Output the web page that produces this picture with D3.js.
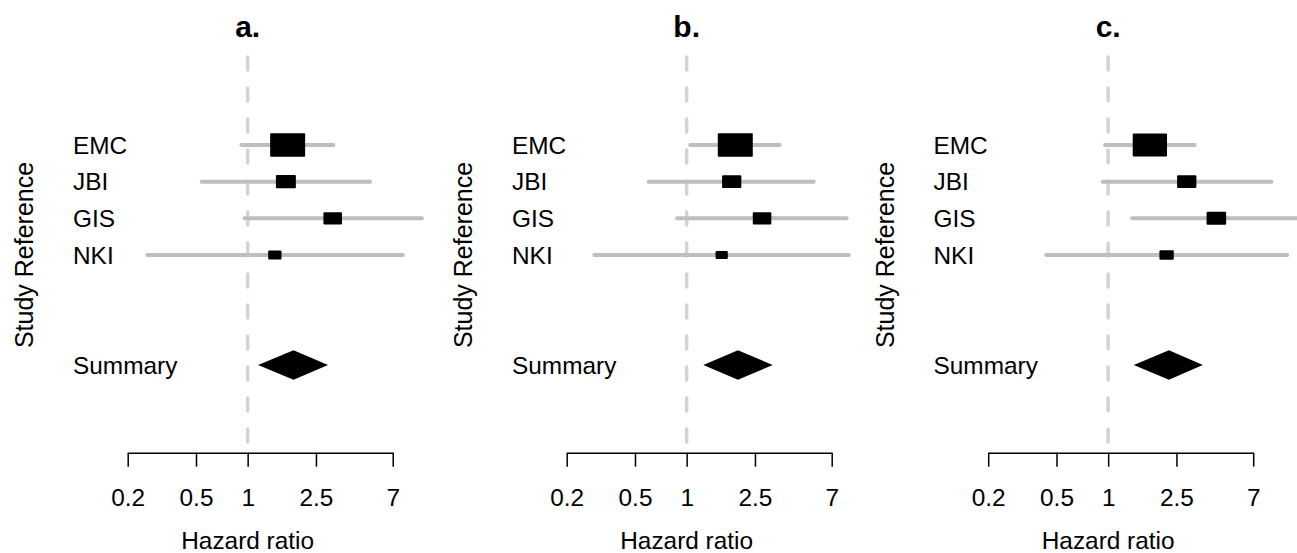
<!DOCTYPE html>
<html>
<head>
<meta charset="utf-8">
<script src="https://cdn.jsdelivr.net/npm/d3@7"></script>
<style>
  body { margin: 0; background: #fff; }
  svg { display: block; font-family: "Liberation Sans", Arial, sans-serif; }
</style>
</head>
<body>
<div id="chart"></div>
<script>
// Data (hazard ratios, log scale)
const panels = ['a.', 'b.', 'c.'];
const studies = ['EMC', 'JBI', 'GIS', 'NKI'];
const tickValues = [0.2, 0.5, 1, 2.5, 7];

// point estimate, lower CI, upper CI, relative weight (box size)
const hrA = [1.71, 1.67, 3.13, 1.44];
const loA = [0.92, 0.54, 0.96, 0.26];
const hiA = [3.16, 5.17, 10.35, 8.02];
const wtA = [1.00, 0.57, 0.53, 0.38];

const hrB = [1.92, 1.83, 2.75, 1.60];
const loB = [1.05, 0.60, 0.88, 0.29];
const hiB = [3.48, 5.50, 8.55, 8.80];
const wtB = [1.00, 0.55, 0.53, 0.35];

const hrC = [1.75, 2.87, 4.27, 2.19];
const loC = [0.96, 0.93, 1.38, 0.435];
const hiC = [3.19, 8.95, 13.0, 11.05];
const wtC = [0.98, 0.55, 0.56, 0.41];

// summary: estimate, lower, upper
const summaryA = [1.85, 1.15, 2.94];
const summaryB = [1.99, 1.25, 3.17];
const summaryC = [2.26, 1.41, 3.56];

const panelData = [
    { hr: hrA, lo: loA, hi: hiA, wt: wtA, summary: summaryA },
    { hr: hrB, lo: loB, hi: hiB, wt: wtB, summary: summaryB },
    { hr: hrC, lo: loC, hi: hiC, wt: wtC, summary: summaryC }
];

const W = 1297, H = 553;
const panelOffsets = [0, 439, 860.5];

const svg = d3.select('#chart')
    .append('svg')
    .attr('width', W)
    .attr('height', H);

const xScale = d3.scaleLog()
    .domain([0.2, 7])
    .range([127.7, 392.7]);

// row positions: 4 studies then summary after a gap
const yScale = d3.scaleLinear()
    .domain([0, 6])
    .range([145, 365]);

const boxScale = d3.scaleLinear()
    .domain([0, 1])
    .range([0, 35]);

const axisY = 452.7;
const fontSize = '24.4px';

panels.forEach((title, p) => {
    const d = panelData[p];
    const g = svg.append('g')
        .attr('transform', `translate(${panelOffsets[p]},0)`);

    // Title
    g.append('text')
        .attr('x', xScale(1))
        .attr('y', 36.5)
        .attr('text-anchor', 'middle')
        .style('font-size', '30px')
        .style('font-weight', 'bold')
        .text(title);

    // Y label
    g.append('text')
        .attr('transform', `translate(33, ${yScale(3)}) rotate(-90)`)
        .attr('text-anchor', 'middle')
        .style('font-size', '25px')
        .text('Study Reference');

    // Reference line at HR = 1
    g.append('line')
        .attr('x1', xScale(1))
        .attr('x2', xScale(1))
        .attr('y1', 57)
        .attr('y2', axisY)
        .attr('stroke', '#d3d3d3')
        .attr('stroke-width', 3.5)
        .attr('stroke-linecap', 'round')
        .attr('stroke-dasharray', '13,18');

    const rows = studies.map((s, i) => ({
        name: s, hr: d.hr[i], lo: d.lo[i], hi: d.hi[i], wt: d.wt[i], idx: i
    }));

    // Row labels
    g.selectAll('.lab')
        .data(rows)
        .enter()
        .append('text')
        .attr('x', 73)
        .attr('y', r => yScale(r.idx))
        .attr('dy', '0.36em')
        .style('font-size', fontSize)
        .text(r => r.name);

    g.append('text')
        .attr('x', 73)
        .attr('y', yScale(6))
        .attr('dy', '0.36em')
        .style('font-size', fontSize)
        .text('Summary');

    // Confidence intervals
    g.selectAll('.ci')
        .data(rows)
        .enter()
        .append('line')
        .attr('x1', r => xScale(r.lo))
        .attr('x2', r => xScale(r.hi))
        .attr('y1', r => yScale(r.idx))
        .attr('y2', r => yScale(r.idx))
        .attr('stroke', '#bebebe')
        .attr('stroke-width', 4)
        .attr('stroke-linecap', 'round');

    // Boxes
    g.selectAll('.box')
        .data(rows)
        .enter()
        .append('rect')
        .attr('x', r => xScale(r.hr) - boxScale(r.wt) / 2)
        .attr('y', r => yScale(r.idx) - boxScale(r.wt) / 3)
        .attr('width', r => boxScale(r.wt))
        .attr('height', r => boxScale(r.wt) * 2 / 3)
        .attr('rx', 1)
        .attr('fill', '#000');

    // Summary diamond
    const sy = yScale(6);
    const s = d.summary;
    g.append('path')
        .attr('d', `M${xScale(s[1])},${sy} L${xScale(s[0])},${sy - 14.7} L${xScale(s[2])},${sy} L${xScale(s[0])},${sy + 14.7} Z`)
        .attr('fill', '#000');

    // X axis
    const axis = g.append('g')
        .attr('transform', `translate(0, ${axisY})`)
        .call(d3.axisBottom(xScale)
            .tickValues(tickValues)
            .tickFormat(v => String(v))
            .tickSize(14)
            .tickPadding(22)
            .tickSizeOuter(0));
    axis.select('.domain')
        .attr('stroke', '#000')
        .attr('stroke-width', 1.5);
    axis.selectAll('.tick line')
        .attr('stroke', '#000')
        .attr('stroke-width', 1.5);
    axis.selectAll('.tick text')
        .attr('fill', '#000')
        .style('font-size', fontSize)
        .style('font-family', '"Liberation Sans", Arial, sans-serif');

    // X label
    g.append('text')
        .attr('x', xScale(1))
        .attr('y', 549)
        .attr('text-anchor', 'middle')
        .style('font-size', fontSize)
        .text('Hazard ratio');
});
</script>
</body>
</html>
